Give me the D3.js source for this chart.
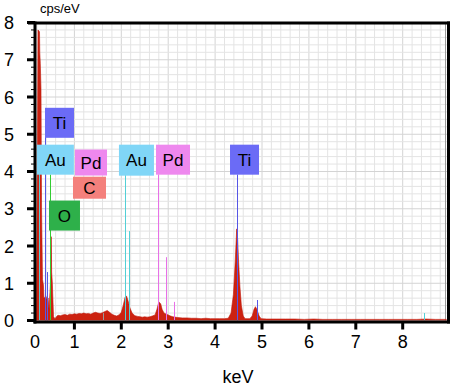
<!DOCTYPE html>
<html><head><meta charset="utf-8">
<script src="https://cdn.jsdelivr.net/npm/d3@7"></script>
<style>body{margin:0;background:#fff}svg{display:block}text{font-family:"Liberation Sans",Arial,Helvetica,sans-serif}</style>
</head><body><svg id="c" width="450" height="388"></svg>
<script>
// ---- data ----
const xTicks = [0,1,2,3,4,5,6,7,8];
const yTicks = [0,1,2,3,4,5,6,7,8];
const xTitle = "keV";
const yTitle = "cps/eV";
// spectrum (keV, cps/eV)
const specE = [0.18,0.20,0.224,0.256,0.262,0.273,0.288,0.30,0.32,0.34,0.35,0.37,0.39,0.42,0.44,0.46,0.49,0.50,0.507,0.515,0.53,0.555,0.586,0.63,
 0.65,0.70,0.75,0.80,0.85,0.90,0.95,1.00,1.05,1.10,1.15,1.20,1.25,1.30,1.35,1.40,1.45,1.50,1.55,1.60,1.65,1.70,1.75,1.80,1.85,1.90,1.95,
 2.00,2.04,2.08,2.11,2.14,2.18,2.23,2.29,2.35,2.40,2.45,2.50,2.55,2.61,2.66,2.72,2.76,2.80,2.84,2.87,2.91,2.96,3.00,3.05,3.10,3.20,3.30,3.40,
 3.50,3.60,3.70,3.80,3.90,4.00,4.10,4.20,4.28,4.34,4.39,4.43,4.46,4.48,4.50,4.53,4.56,4.60,4.64,4.70,4.74,4.79,4.83,4.86,4.89,4.94,4.98,
 5.10,5.30,5.50,5.70,5.90,6.10,6.30,6.50,6.70,6.90,7.10,7.30,7.50,7.70,7.90,8.10,8.30,8.50,8.70,8.93];
const specV = [0,2.0,7.8,7.75,7.2,6.9,6.2,3.0,1.1,0.95,0.6,0.62,0.66,0.55,0.6,0.3,1.0,1.6,2.25,1.3,1.0,0.1,0.05,0.12,
 0.14,0.13,0.15,0.16,0.14,0.17,0.16,0.18,0.17,0.19,0.18,0.20,0.18,0.19,0.17,0.20,0.22,0.20,0.19,0.21,0.24,0.27,0.22,0.17,0.14,0.12,0.15,
 0.22,0.40,0.62,0.66,0.55,0.35,0.20,0.13,0.11,0.10,0.09,0.10,0.09,0.10,0.12,0.15,0.30,0.50,0.45,0.30,0.20,0.17,0.15,0.12,0.10,0.08,0.07,0.07,
 0.06,0.06,0.05,0.06,0.05,0.05,0.05,0.05,0.06,0.20,0.70,1.60,2.46,2.20,1.60,0.90,0.40,0.12,0.05,0.05,0.05,0.12,0.30,0.37,0.30,0.12,0.05,
 0.04,0.04,0.04,0.04,0.03,0.04,0.03,0.03,0.03,0.03,0.03,0.03,0.03,0.03,0.03,0.03,0.03,0.04,0.03,0.03];
// element marker lines
const lineElem = ["Au","Ti","Ti","O","Au","Au","Pd","Pd","Pd","Ti","Ti","Au","X"];
const lineE    = [0.25,0.37,0.42,0.49,2.08,2.16,2.79,2.96,3.12,4.47,4.89,8.45,1.61];
const lineH    = [4.0,5.1,1.3,3.92,3.92,2.4,3.92,1.7,0.5,3.92,0.55,0.2,0.2];
// label boxes (element, keV of box left, cps/eV of box top)
const labElem = ["Ti","Au","Pd","C","O","Au","Pd","Ti"];
const labE    = [0.373,0.20,1.013,0.97,0.458,1.95,2.74,4.318];
const labTop  = [5.71,4.72,4.59,3.86,3.22,4.72,4.72,4.72];

// ---- styles / layout ----
const elemColor = {Ti:"#6b6bf6",Au:"#80d6f7",Pd:"#ee88ee",C:"#f4807c",O:"#2eb04a",X:"#9a9a9a"};
const lineColor = {Ti:"#5656e6",Au:"#52cfd6",Pd:"#e870e8",C:"#f4807c",O:"#33cc33",X:"#9a9a9a"};
const boxSize = [[29,30],[37,30],[32,26],[33,22],[31,30],[35,31],[34,30],[29,30]];

const svg = d3.select("#c");
const L = 35, R = 447, T = 23, B = 320.5;
const x = d3.scaleLinear().domain([0,8]).range([27.5,402.7]);
const y = d3.scaleLinear().domain([0,8]).range([B,22.5]);

const defs = svg.append("defs");
defs.append("clipPath").attr("id","clip").append("rect").attr("x",L).attr("y",T).attr("width",R-L).attr("height",B-T);
const plot = svg.append("g").attr("clip-path","url(#clip)");

// grid
const gx = d3.range(0,9.01,0.2), gy = d3.range(0.2,8.01,0.2);
plot.selectAll(".gx").data(gx).join("line")
  .attr("x1",d=>x(d)).attr("x2",d=>x(d)).attr("y1",T).attr("y2",B)
  .attr("stroke",d=>Math.abs(d-Math.round(d))<1e-6?"#d4d4d4":"#e4e4e4").attr("stroke-width",1);
plot.selectAll(".gy").data(gy).join("line")
  .attr("x1",L).attr("x2",R).attr("y1",d=>y(d)).attr("y2",d=>y(d))
  .attr("stroke",d=>Math.abs(d-Math.round(d))<1e-6?"#d4d4d4":"#e4e4e4").attr("stroke-width",1);
plot.append("line").attr("x1",R-1.5).attr("x2",R-1.5).attr("y1",T).attr("y2",B).attr("stroke","#999");

// spectrum
const pts = specE.map((e,i)=>[e,specV[i]]);
plot.append("path").datum(pts)
  .attr("d",d3.area().x(d=>x(d[0])).y0(y(0)).y1(d=>y(d[1])).curve(d3.curveLinear))
  .attr("fill","#cc2210").attr("stroke","#c01a0c").attr("stroke-width",0.6);

// marker lines
plot.selectAll(".ml").data(lineE).join("line")
  .attr("x1",d=>Math.round(x(d))+0.5).attr("x2",d=>Math.round(x(d))+0.5)
  .attr("y1",y(0)).attr("y2",(d,i)=>y(lineH[i]))
  .attr("stroke",(d,i)=>lineColor[lineElem[i]]).attr("stroke-width",1);

// label boxes
const lb = plot.selectAll(".lb").data(labE).join("g")
  .attr("transform",(d,i)=>`translate(${x(d)},${y(labTop[i])})`);
lb.append("rect").attr("width",(d,i)=>boxSize[i][0]).attr("height",(d,i)=>boxSize[i][1])
  .attr("fill",(d,i)=>elemColor[labElem[i]]);
lb.append("text").attr("x",(d,i)=>boxSize[i][0]/2).attr("y",(d,i)=>boxSize[i][1]/2+6)
  .attr("text-anchor","middle").attr("font-size",17).attr("fill","#000").text((d,i)=>labElem[i]);

// frame
svg.append("line").attr("x1",28).attr("x2",450).attr("y1",T).attr("y2",T).attr("stroke","#000").attr("stroke-width",3);
svg.append("line").attr("x1",448.5).attr("x2",448.5).attr("y1",T-1.5).attr("y2",B+3).attr("stroke","#000").attr("stroke-width",3);
svg.append("line").attr("x1",L).attr("x2",L).attr("y1",T-1.5).attr("y2",B+3).attr("stroke","#000").attr("stroke-width",3);
svg.append("line").attr("x1",L-1.5).attr("x2",450).attr("y1",B+1.5).attr("y2",B+1.5).attr("stroke","#000").attr("stroke-width",3);

// y axis ticks
svg.selectAll(".ymin").data(d3.range(0,8.01,0.2)).join("line")
  .attr("x1",31).attr("x2",L).attr("y1",d=>y(d)).attr("y2",d=>y(d)).attr("stroke","#000").attr("stroke-width",1);
svg.selectAll(".ymaj").data(yTicks).join("line")
  .attr("x1",27).attr("x2",L).attr("y1",d=>y(d)).attr("y2",d=>y(d)).attr("stroke","#000").attr("stroke-width",3);
svg.selectAll(".ylab").data(yTicks).join("text")
  .attr("x",9).attr("y",d=>y(d)+6.5).attr("text-anchor","middle").attr("font-size",18).text(d=>d);

// x axis ticks
svg.selectAll(".xmaj").data(xTicks.filter(d=>x(d)>L+2)).join("line")
  .attr("x1",d=>x(d)).attr("x2",d=>x(d)).attr("y1",B+1).attr("y2",B+9).attr("stroke","#000").attr("stroke-width",3);
svg.selectAll(".xlab").data(xTicks).join("text")
  .attr("x",d=>Math.max(x(d),L)).attr("y",348).attr("text-anchor","middle").attr("font-size",18).text(d=>d);

svg.append("text").attr("x",238).attr("y",383).attr("text-anchor","middle").attr("font-size",18).text(xTitle);
svg.append("text").attr("x",40).attr("y",13).attr("font-size",13).text(yTitle);
</script></body></html>
